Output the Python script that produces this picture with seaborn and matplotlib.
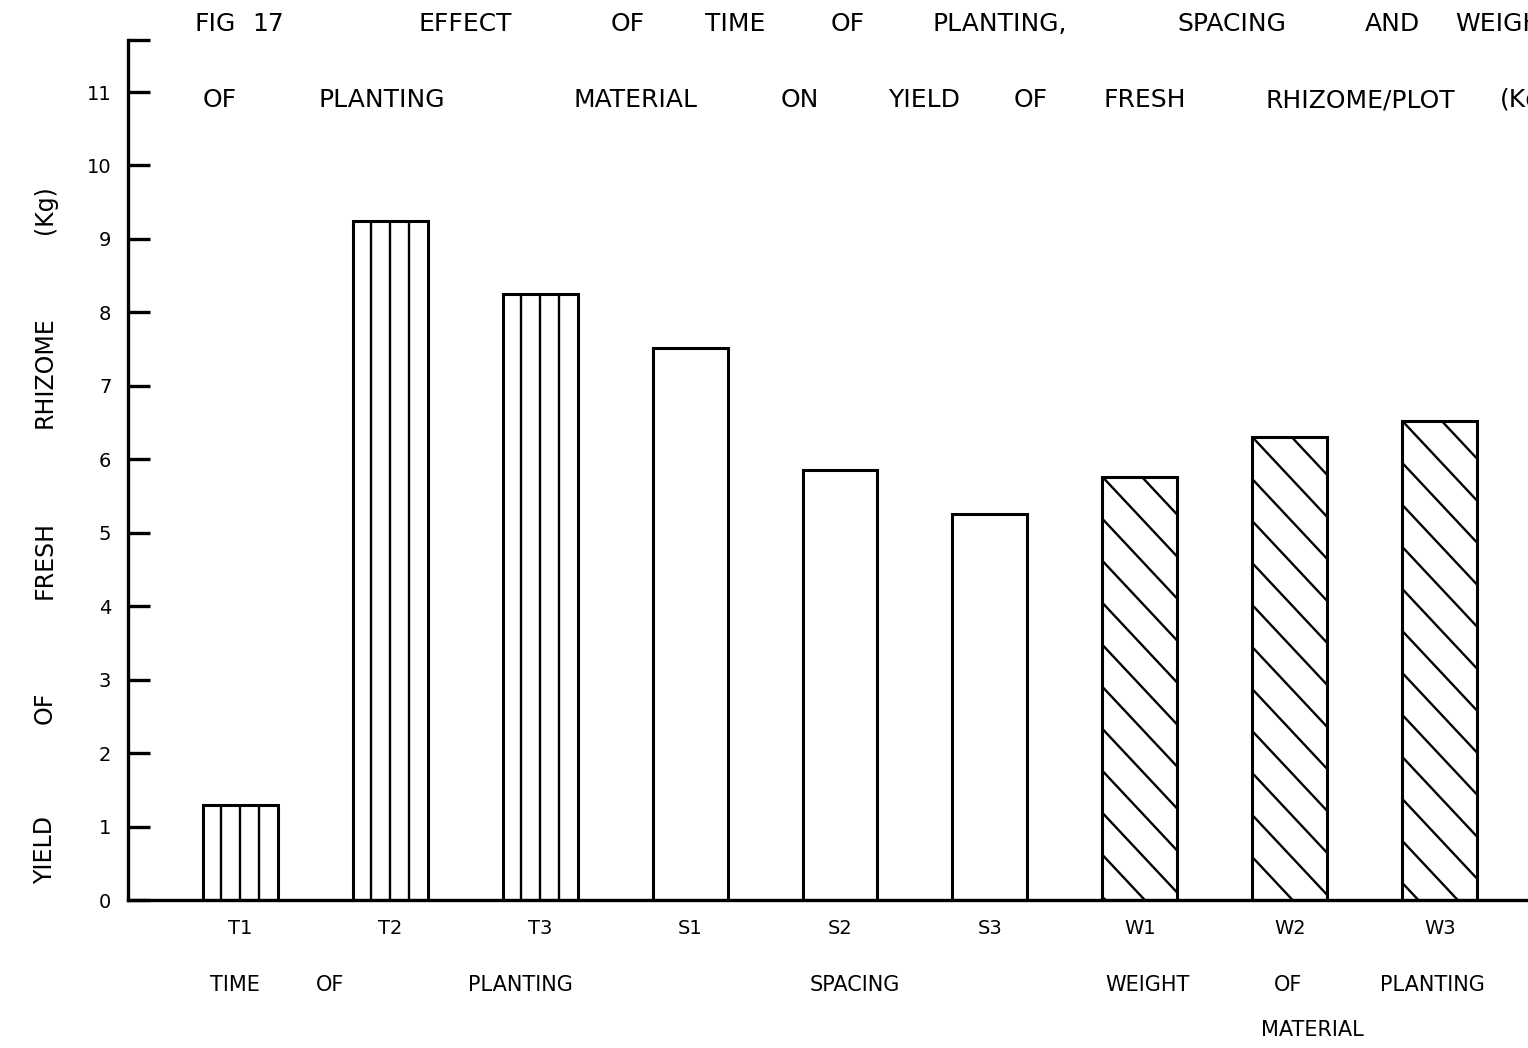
import matplotlib
matplotlib.use("Agg")
import matplotlib.pyplot as plt
import seaborn as sns
import pandas as pd

# ---- data ----
categories = ["T1", "T2", "T3", "S1", "S2", "S3", "W1", "W2", "W3"]
yields = [1.3, 9.25, 8.25, 7.52, 5.85, 5.25, 5.76, 6.3, 6.52]
groups = ["time", "time", "time", "spacing", "spacing", "spacing",
          "weight", "weight", "weight"]
y_ticks = list(range(12))

title_line1 = ["FIG", "17", "EFFECT", "OF", "TIME", "OF", "PLANTING,",
               "SPACING", "AND"]
title_line1_last = "WEIGHT"
title_line2 = ["OF", "PLANTING", "MATERIAL", "ON", "YIELD", "OF", "FRESH",
               "RHIZOME/PLOT"]
title_line2_last = "(Kg)"
ylabel_words = ["YIELD", "OF", "FRESH", "RHIZOME", "(Kg)"]
group_line1 = ["TIME", "OF", "PLANTING", "SPACING", "WEIGHT", "OF", "PLANTING"]
group_line2 = ["MATERIAL"]

df = pd.DataFrame({"cat": categories, "yield": yields, "group": groups})

sns.set_style("white")
plt.rcParams["font.family"] = ["DejaVu Sans"]
plt.rcParams["text.color"] = "black"

W, H = 1528, 1048
fig = plt.figure(figsize=(W / 100, H / 100), dpi=100)
ax = fig.add_axes([128 / W, 148 / H, 1 - 128 / W, (900 - 40) / H])

sns.barplot(data=df, x="cat", y="yield", color="white", edgecolor="black",
            linewidth=2.2, width=0.5, saturation=1, errorbar=None, ax=ax)

ytop = (900 - 40) / ((900 - 92) / 11)
ax.set_ylim(0, ytop)
ax.set_xlim(-0.747, 8.587)

# hatching drawn per bar, clipped to each bar
px_y = (900 - 92) / 11
for patch, grp in zip(ax.patches, df["group"]):
    x0 = patch.get_x()
    w = patch.get_width()
    h = patch.get_height()
    if grp == "time":
        for k in range(1, 4):
            xx = x0 + w * k / 4
            ax.plot([xx, xx], [0, h], color="black", lw=1.7,
                    solid_capstyle="butt")
    elif grp == "weight":
        drop = 80 / px_y
        step = 42 / px_y
        y_start = h + step
        while y_start > -drop:
            ln, = ax.plot([x0, x0 + w], [y_start, y_start - drop],
                          color="black", lw=1.7)
            ln.set_clip_path(patch)
            y_start -= step

for side in ["top", "right"]:
    ax.spines[side].set_visible(False)
for side in ["left", "bottom"]:
    ax.spines[side].set_color("black")
    ax.spines[side].set_linewidth(2.4)

ax.set_yticks(y_ticks + [ytop])
ax.set_yticklabels([str(v) for v in y_ticks] + [""])
ax.tick_params(axis="y", direction="in", length=16, width=2.4,
               colors="black", labelsize=14, pad=12, left=True)
ax.tick_params(axis="x", length=0, labelsize=14, pad=14, colors="black")
ax.set_xlabel("")
ax.set_ylabel("")


def fx(px):
    return px / W


def fy(py):
    return 1 - py / H


tsize = 18
for word, px in zip(title_line1, [215, 268, 465, 628, 735, 848, 1000, 1232, 1392]):
    fig.text(fx(px), fy(24), word, fontsize=tsize, ha="center", va="center")
fig.text(fx(1455), fy(24), title_line1_last, fontsize=tsize, ha="left", va="center")
for word, px in zip(title_line2, [220, 382, 635, 800, 924, 1031, 1145, 1360]):
    fig.text(fx(px), fy(100), word, fontsize=tsize, ha="center", va="center")
fig.text(fx(1500), fy(100), title_line2_last, fontsize=tsize, ha="left", va="center")

for word, py in zip(ylabel_words, [850, 708, 560, 372, 210]):
    fig.text(fx(45), fy(py), word, fontsize=17, rotation=90,
             ha="center", va="center")

for word, px in zip(group_line1, [235, 330, 520, 855, 1148, 1288, 1432]):
    fig.text(fx(px), fy(985), word, fontsize=15, ha="center", va="center")
for word, px in zip(group_line2, [1312]):
    fig.text(fx(px), fy(1030), word, fontsize=15, ha="center", va="center")

fig.savefig("out.png", dpi=100)
